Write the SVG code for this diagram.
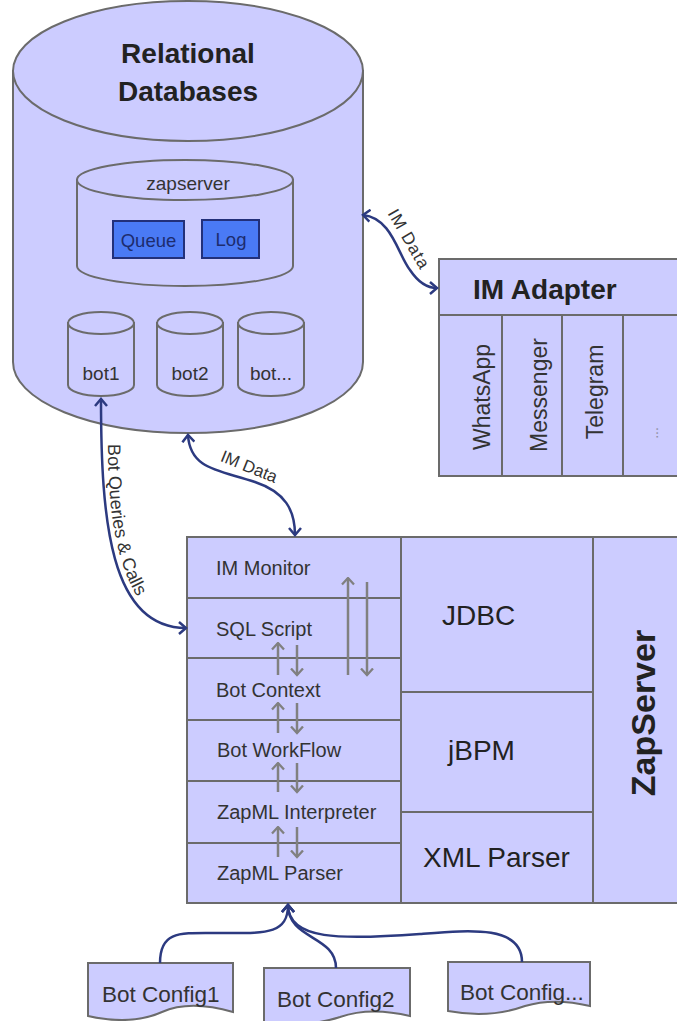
<svg xmlns="http://www.w3.org/2000/svg" width="677" height="1021" viewBox="0 0 677 1021">
<style>
.sh{fill:#ccccff;stroke:#6b6b6b;stroke-width:2}
.ln{fill:none;stroke:#6b6b6b;stroke-width:2}
.t{font-family:"Liberation Sans",Arial,sans-serif;fill:#222}
.b{font-weight:bold}
.s{fill:#333}
.con{fill:none;stroke:#2c3a80;stroke-width:2.5}
.g{fill:none;stroke:#808080;stroke-width:2.5}
.lab{font-family:"Liberation Sans",Arial,sans-serif;fill:#333;font-size:17px}
</style>
<defs>
<marker id="ah" viewBox="0 0 10 14" refX="8" refY="7" markerWidth="10" markerHeight="14" markerUnits="userSpaceOnUse" orient="auto-start-reverse">
<path d="M1,1 L8,7 L1,13" fill="none" stroke="#2c3a80" stroke-width="2.5"/>
</marker>
<marker id="ga" viewBox="0 0 9 14" refX="7.5" refY="7" markerWidth="9" markerHeight="14" markerUnits="userSpaceOnUse" orient="auto">
<path d="M1,1 L7.5,7 L1,13" fill="none" stroke="#808080" stroke-width="2.3"/>
</marker>
</defs>
<rect width="677" height="1021" fill="#ffffff"/>

<g id="relational-databases">
<path class="sh" d="M13,71 L13,362 A175,71 0 0 0 363,362 L363,71 Z"/>
<ellipse class="sh" cx="188" cy="71" rx="175" ry="70"/>
<text class="t b" x="188" y="63" font-size="28" text-anchor="middle">Relational</text>
<text class="t b" x="188" y="101" font-size="28" text-anchor="middle">Databases</text>
</g>

<g id="zapserver-db">
<path class="sh" d="M77,180 L77,266 A108,20 0 0 0 293,266 L293,180 Z"/>
<ellipse class="sh" cx="185" cy="180" rx="108" ry="20"/>
<text class="t s" x="188" y="190" font-size="19" text-anchor="middle">zapserver</text>
</g>
<g id="queue">
<rect x="113" y="221" width="71" height="37" fill="#4a7af5" stroke="#22307a" stroke-width="2"/>
<text class="t" x="148.5" y="247" font-size="18.5" text-anchor="middle" style="fill:#1d2c6e">Queue</text>
</g>
<g id="log">
<rect x="202" y="220" width="57" height="38" fill="#4a7af5" stroke="#22307a" stroke-width="2"/>
<text class="t" x="231" y="246" font-size="18.5" text-anchor="middle" style="fill:#1d2c6e">Log</text>
</g>

<g id="bot1">
<path class="sh" d="M68,323 L68,385 A33,11 0 0 0 134,385 L134,323 Z"/>
<ellipse class="sh" cx="101" cy="323" rx="33" ry="11"/>
<text class="t s" x="101" y="380" font-size="19" text-anchor="middle">bot1</text>
</g>
<g id="bot2">
<path class="sh" d="M157,323 L157,385 A33,11 0 0 0 223,385 L223,323 Z"/>
<ellipse class="sh" cx="190" cy="323" rx="33" ry="11"/>
<text class="t s" x="190" y="380" font-size="19" text-anchor="middle">bot2</text>
</g>
<g id="bot-more">
<path class="sh" d="M238,323 L238,385 A33,11 0 0 0 304,385 L304,323 Z"/>
<ellipse class="sh" cx="271" cy="323" rx="33" ry="11"/>
<text class="t s" x="271" y="380" font-size="19" text-anchor="middle">bot...</text>
</g>

<g id="im-adapter">
<rect class="sh" x="439" y="259" width="260" height="217"/>
<line class="ln" x1="439" y1="315" x2="699" y2="315"/>
<line class="ln" x1="502" y1="315" x2="502" y2="476"/>
<line class="ln" x1="562" y1="315" x2="562" y2="476"/>
<line class="ln" x1="623" y1="315" x2="623" y2="476"/>
<text class="t b" x="473" y="299" font-size="28">IM Adapter</text>
<text class="t s" font-size="23" text-anchor="middle" transform="translate(490,397) rotate(-90)">WhatsApp</text>
<text class="t s" font-size="23" text-anchor="middle" transform="translate(547,395) rotate(-90)">Messenger</text>
<text class="t s" font-size="23" text-anchor="middle" transform="translate(603,392) rotate(-90)">Telegram</text>
<text class="t" font-size="14" text-anchor="middle" style="fill:#8a8a9a" transform="translate(658,433) rotate(-90)">...</text>
</g>

<g id="zapserver">
<rect class="sh" x="187" y="537" width="510" height="366"/>
<line class="ln" x1="401" y1="537" x2="401" y2="903"/>
<line class="ln" x1="593" y1="537" x2="593" y2="903"/>
<line class="ln" x1="187" y1="598" x2="401" y2="598"/>
<line class="ln" x1="187" y1="658" x2="401" y2="658"/>
<line class="ln" x1="187" y1="720" x2="401" y2="720"/>
<line class="ln" x1="187" y1="781" x2="401" y2="781"/>
<line class="ln" x1="187" y1="843" x2="401" y2="843"/>
<line class="ln" x1="401" y1="692" x2="593" y2="692"/>
<line class="ln" x1="401" y1="812" x2="593" y2="812"/>
<text class="t s" x="216" y="575" font-size="20">IM Monitor</text>
<text class="t s" x="216" y="636" font-size="20">SQL Script</text>
<text class="t s" x="216" y="697" font-size="20">Bot Context</text>
<text class="t s" x="217" y="757" font-size="20">Bot WorkFlow</text>
<text class="t s" x="217" y="819" font-size="20">ZapML Interpreter</text>
<text class="t s" x="217" y="880" font-size="20">ZapML Parser</text>
<text class="t" x="442" y="625" font-size="28">JDBC</text>
<text class="t" x="448" y="760" font-size="28">jBPM</text>
<text class="t" x="423" y="867" font-size="28">XML Parser</text>
<text class="t b" font-size="34" text-anchor="middle" transform="translate(655,713) rotate(-90)">ZapServer</text>
<g id="internal-arrows">
<line class="g" x1="278" y1="675" x2="278" y2="643" marker-end="url(#ga)"/>
<line class="g" x1="297" y1="645" x2="297" y2="675" marker-end="url(#ga)"/>
<line class="g" x1="278" y1="733" x2="278" y2="703" marker-end="url(#ga)"/>
<line class="g" x1="297" y1="703" x2="297" y2="733" marker-end="url(#ga)"/>
<line class="g" x1="278" y1="792" x2="278" y2="763" marker-end="url(#ga)"/>
<line class="g" x1="297" y1="763" x2="297" y2="792" marker-end="url(#ga)"/>
<line class="g" x1="278" y1="857" x2="278" y2="827" marker-end="url(#ga)"/>
<line class="g" x1="297" y1="827" x2="297" y2="857" marker-end="url(#ga)"/>
<line class="g" x1="348" y1="675" x2="348" y2="578" marker-end="url(#ga)"/>
<line class="g" x1="367" y1="582" x2="367" y2="675" marker-end="url(#ga)"/>
</g>
</g>

<g id="bot-config1">
<path class="sh" d="M88,963 H233 V1012 C205,1004 180,1004 162,1012 C140,1022 115,1022 88,1016 Z"/>
<text class="t s" x="102" y="1002" font-size="22.5">Bot Config1</text>
</g>
<g id="bot-config2">
<path class="sh" d="M264,968 H410 V1016 C385,1010 360,1010 340,1017 C315,1025 290,1026 264,1022 Z"/>
<text class="t s" x="277" y="1007" font-size="22.5">Bot Config2</text>
</g>
<g id="bot-config-more">
<path class="sh" d="M448,962 H590 V1006 C565,1000 545,1000 525,1006 C500,1015 475,1016 448,1011 Z"/>
<text class="t s" x="460" y="1000" font-size="22.5">Bot Config...</text>
</g>

<g id="connectors">
<path class="con" d="M363,215 C392,218 398,255 410,270 C418,282 428,288 437,288" marker-start="url(#ah)" marker-end="url(#ah)"/>
<path class="con" d="M188,435 C190,470 220,470 255,482 C285,492 295,510 295,535" marker-start="url(#ah)" marker-end="url(#ah)"/>
<path class="con" d="M101,399 C101,520 110,628 186,628" marker-start="url(#ah)" marker-end="url(#ah)"/>
<path class="con" d="M160,963 C160,930 180,933 220,933 C265,933 288,935 288,905" marker-end="url(#ah)"/>
<path class="con" d="M336,968 C336,935 288,940 288,905" marker-end="url(#ah)"/>
<path class="con" d="M522,962 C522,925 470,930 420,934 C340,940 288,940 288,905" marker-end="url(#ah)"/>
<text class="lab" text-anchor="middle" letter-spacing="1" transform="translate(404,242) rotate(60)">IM Data</text>
<text class="lab" text-anchor="middle" transform="translate(247,472) rotate(22)">IM Data</text>
<path id="bqpath" d="M108,444 C108,520 118,580 152,616" fill="none"/>
<text font-family="Liberation Sans, Arial, sans-serif" font-size="18" fill="#333"><textPath href="#bqpath" font-family="Liberation Sans, Arial, sans-serif">Bot Queries &amp; Calls</textPath></text>
</g>
</svg>
